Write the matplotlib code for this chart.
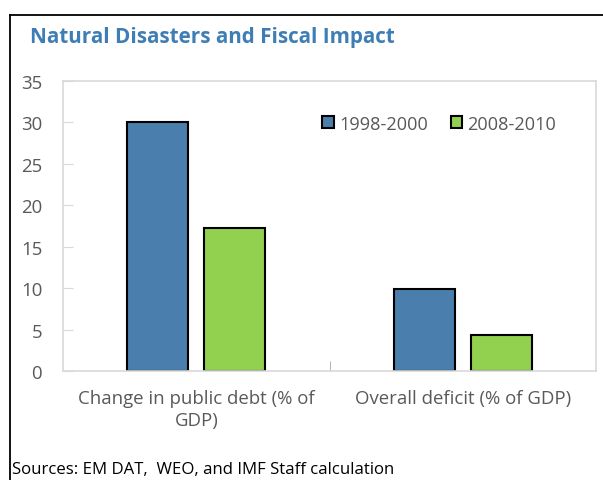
import matplotlib
matplotlib.use('Agg')
import matplotlib.pyplot as plt
from matplotlib.lines import Line2D
import numpy as np

plt.rcParams['font.family'] = ['Open Sans', 'DejaVu Sans']

categories = ['Change in public debt (% of\nGDP)', 'Overall deficit (% of GDP)']
series_names = ['1998-2000', '2008-2010']
values_1998_2000 = [30.0, 9.9]
values_2008_2010 = [17.2, 4.4]
y_ticks = [0, 5, 10, 15, 20, 25, 30, 35]

blue = '#4A7EAC'
green = '#92D050'
gray_text = '#595959'
frame_gray = '#D9D9D9'

fig = plt.figure(figsize=(6.03, 4.81), dpi=100)
ax = fig.add_axes([63 / 603, 1 - 372 / 481, 533 / 603, 290 / 481])

x = np.arange(len(categories))
w = 0.229
off = 0.1445
ax.bar(x - off, values_1998_2000, w, color=blue, edgecolor='black', linewidth=1.5,
       label=series_names[0])
ax.bar(x + off, values_2008_2010, w, color=green, edgecolor='black', linewidth=1.5,
       label=series_names[1])

ax.set_xlim(-0.5, 1.5)
ax.set_ylim(0, 35)
ax.set_yticks(y_ticks)
ax.set_xticks(x)
ax.set_xticklabels(categories, fontsize=13.4, color=gray_text, linespacing=1.3)
ax.tick_params(axis='x', length=0, pad=13)
ax.set_xticks([0.5], minor=True)
ax.tick_params(axis='x', which='minor', direction='in', length=7, color='#A6A6A6')
ax.tick_params(axis='y', direction='in', length=7, color=frame_gray,
               labelsize=13.4, labelcolor=gray_text, pad=15)
for s in ax.spines.values():
    s.set_color(frame_gray)
    s.set_linewidth(1.2)

leg = ax.legend(loc='upper left', bbox_to_anchor=(0.456, 0.94), ncol=2, frameon=False,
                fontsize=13.1, handlelength=0.62, handleheight=0.62, handletextpad=0.3,
                columnspacing=1.25, labelcolor=gray_text)

fig.text(30 / 603, 1 - 38 / 481, 'Natural Disasters and Fiscal Impact', fontsize=14.9,
         fontweight='bold', color='#3F7EB5', va='center', ha='left')
fig.text(12 / 603, 1 - 470 / 481, 'Sources: EM DAT,  WEO, and IMF Staff calculation',
         fontsize=12.1, color='black', va='center', ha='left')

# outer frame (left and top edges visible)
fig.add_artist(Line2D([9.5 / 603, 9.5 / 603], [0, 1 - 15.5 / 481], transform=fig.transFigure,
                      color='black', linewidth=1.3))
fig.add_artist(Line2D([9.5 / 603, 1], [1 - 15.5 / 481, 1 - 15.5 / 481], transform=fig.transFigure,
                      color='black', linewidth=1.3))

fig.savefig('out.png', dpi=100)
